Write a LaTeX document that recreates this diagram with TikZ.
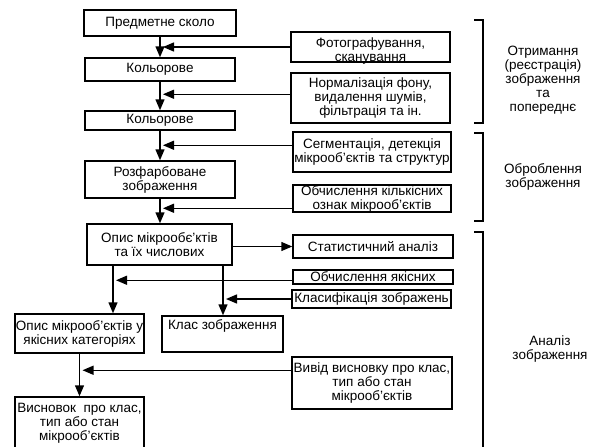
\documentclass[tikz,border=0pt]{standalone}
\usepackage{fontspec}
\setmainfont{Liberation Sans}
\usetikzlibrary{arrows.meta,calc}
\begin{document}
\begin{tikzpicture}[x=1pt,y=-1pt,
  every node/.style={font=\fontsize{13.5}{14}\selectfont},
  box/.style={draw, line width=1.5pt, inner sep=0pt, align=center},
  lbl/.style={inner sep=0pt, align=center},
  arr/.style={line width=1.5pt, -{Triangle[length=11pt,width=9pt]}},
  brk/.style={line width=1.7pt}]
\useasboundingbox[fill=white] (0,0) rectangle (590,447);
% left column
\node[box, minimum width=152, minimum height=26] (b1) at (160,23) {Предметне сколо};
\node[box, minimum width=150, minimum height=23] (b2) at (160,69.5) {Кольорове};
\node[box, minimum width=150, minimum height=19] (b3) at (160,120.5) {Кольорове};
\node[box, minimum width=150, minimum height=37] (b4) at (160,179.5) {Розфарбоване\\зображення};
\node[box, minimum width=145, minimum height=41] (b5) at (159.5,244.5) {Опис мікрообє’ктів\\та їх числових};
\node[box, minimum width=129, minimum height=39] (b6) at (79.5,333.5) {Опис мікрооб’єктів у\\якісних категоріях};
\node[box, minimum width=121, minimum height=36] (b7) at (222.5,334) {};
\node[lbl, anchor=north] (b7t) at ($(b7.north)+(0,4.5)$) {Клас зображення};
\node[box, minimum width=129, minimum height=52] (b8) at (79.5,423) {Висновок~ про клас,\\тип або стан\\мікрооб’єктів};
% right column
\node[box, minimum width=159, minimum height=30] (r1) at (370.5,47) {};
\node[lbl] (r1t) at ($(r1.center)+(0,4)$) {Фотографування,\\сканування};
\node[box, minimum width=159, minimum height=50] (r2) at (370.5,98) {Нормалізація фону,\\видалення шумів,\\фільтрація та ін.};
\node[box, minimum width=158, minimum height=40] (r3) at (372,152) {Сегментація, детекція\\мікрооб’єктів та структур};
\node[box, minimum width=158, minimum height=27] (r4) at (372,198.5) {Обчислення кількісних\\ознак мікрооб’єктів};
\node[box, minimum width=160, minimum height=23] (r5) at (373,246.5) {Статистичний аналіз};
\node[box, minimum width=160, minimum height=14] (r6) at (373,277) {Обчислення якісних};
\node[box, minimum width=159, minimum height=18] (r7) at (371.5,299) {Класифікація зображень};
\node[box, minimum width=160, minimum height=52] (r8) at (372,383) {Вивід висновку про клас,\\тип або стан\\мікрооб’єктів};
% bracket labels
\node[lbl] (g1) at (543,80) {Отримання\\(реєстрація)\\зображення\\та\\попереднє};
\node[lbl] (g2) at (543,176.5) {Оброблення\\зображення};
\node[lbl] (g3) at (550,349) {Аналіз\\зображення};
% brackets
\draw[brk] (474,20) -- (483,20) -- (483,123) -- (474,123);
\draw[brk] (474,133) -- (483,133) -- (483,221) -- (474,221);
\draw[brk] (474,232) -- (483,232) -- (483,450);
% main flow
\draw[arr] (b1.south) -- (b2.north);
\draw[arr] (b2.south) -- (b3.north);
\draw[arr] (b3.south) -- (b4.north);
\draw[arr] (b4.south) -- (b5.north -| b4.south);
\coordinate (c6) at (113,0);
\coordinate (c7) at (223,0);
\draw[arr] (b5.south -| c6) -- (b6.north -| c6);
\draw[arr] (b5.south -| c7) -- (b7.north -| c7);
\draw[arr] (b6.south) -- (b8.north);
\draw[arr] (b5.east |- r5.west) -- (r5.west);
% side inputs
\coordinate (s1) at (r1.west);
\coordinate (s2) at ($(r2.north west)+(0,22)$);
\coordinate (s3) at ($(r3.north west)+(0,14)$);
\coordinate (s4) at ($(r4.north west)+(0,24)$);
\coordinate (s6) at ($(r6.north west)+(0,11)$);
\coordinate (s7) at (r7.west);
\coordinate (s8) at ($(r8.north west)+(0,14)$);
\draw[arr] (s1) -- ($(s1 -| b1.south)+(3,0)$);
\draw[arr] (s2) -- ($(s2 -| b1.south)+(3,0)$);
\draw[arr] (s3) -- ($(s3 -| b1.south)+(3,0)$);
\draw[arr] (s4) -- ($(s4 -| b1.south)+(3,0)$);
\draw[arr] (s6) -- ($(s6 -| c6)+(3,0)$);
\draw[arr] (s7) -- ($(s7 -| c7)+(3,0)$);
\draw[arr] (s8) -- ($(s8 -| b6.south)+(3,0)$);
\end{tikzpicture}
\end{document}
